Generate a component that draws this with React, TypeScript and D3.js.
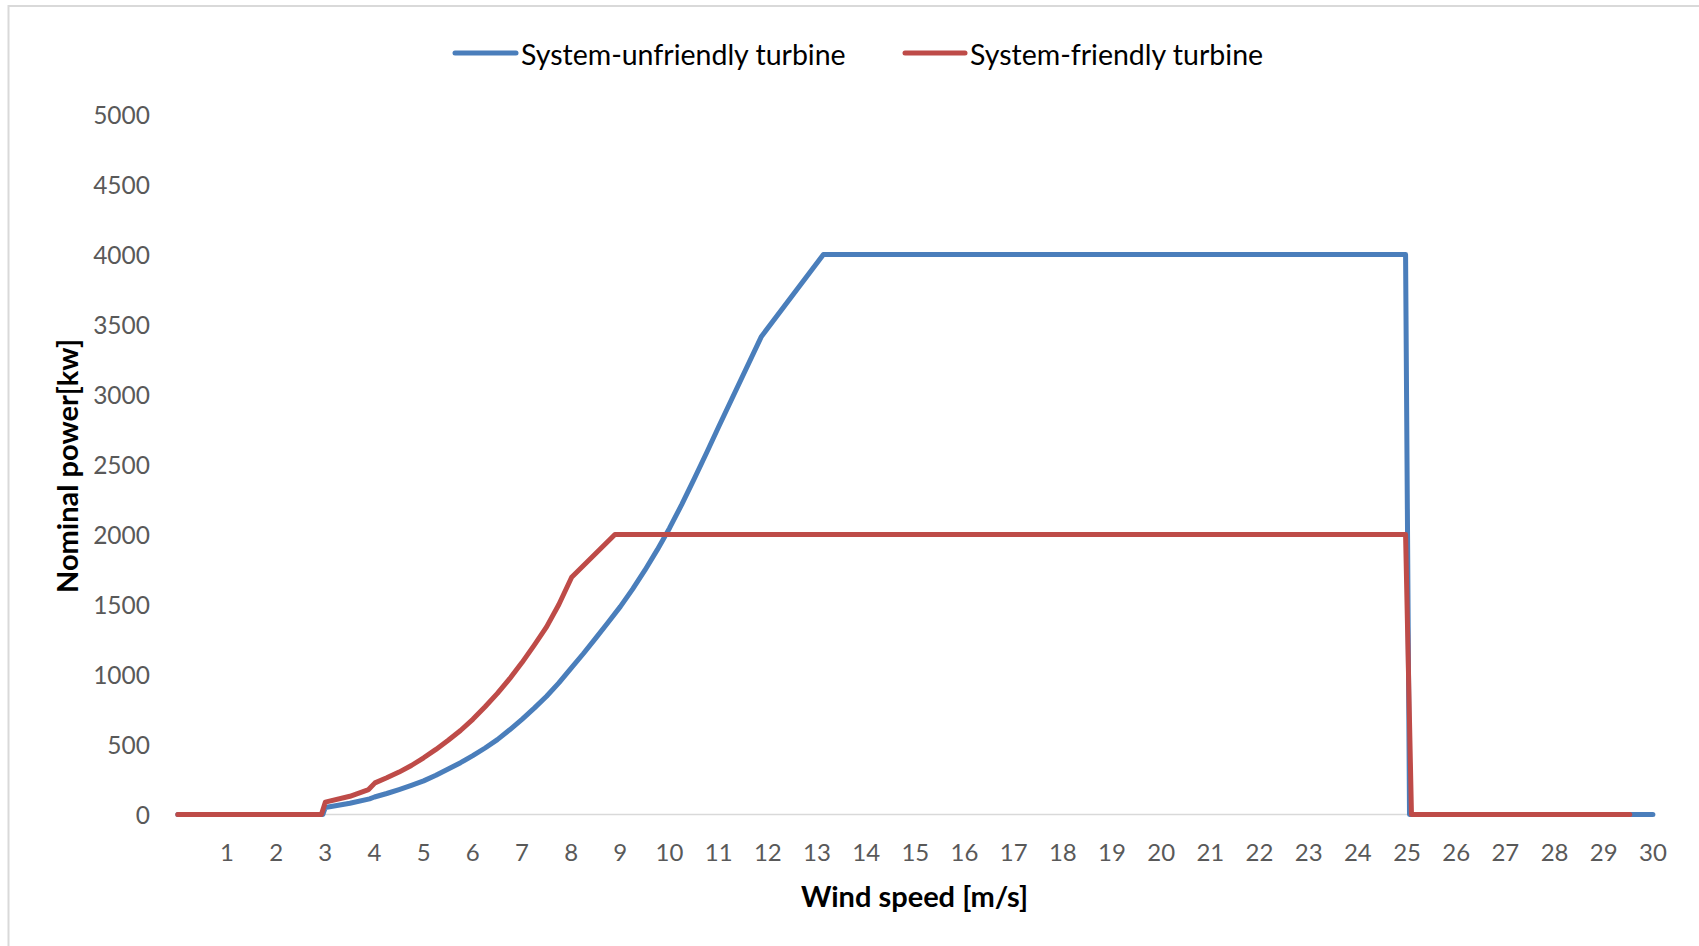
import React from "react";
import * as d3 from "d3";

const yTicks = [0, 500, 1000, 1500, 2000, 2500, 3000, 3500, 4000, 4500, 5000];
const xTicks = [1, 2, 3, 4, 5, 6, 7, 8, 9, 10, 11, 12, 13, 14, 15, 16, 17, 18, 19, 20, 21, 22, 23, 24, 25, 26, 27, 28, 29, 30];

const unfriendlySpeed = [0, 2.95, 3.0, 3.5, 3.9, 4.0, 4.25, 4.5, 4.75, 5, 5.25, 5.5, 5.75, 6, 6.25, 6.5, 6.75, 7, 7.25, 7.5, 7.75, 8, 8.25, 8.5, 8.75, 9, 9.25, 9.5, 9.75, 10, 10.25, 10.5, 10.75, 11, 11.87, 13.13, 24.97, 25.05, 30];
const unfriendlyPower = [0, 0, 50, 80, 112, 125, 150, 178, 208, 240, 280, 325, 370, 420, 475, 535, 605, 680, 760, 845, 940, 1045, 1150, 1260, 1372, 1485, 1610, 1745, 1890, 2045, 2215, 2395, 2580, 2770, 3415, 4000, 4000, 0, 0];

const friendlySpeed = [0, 2.92, 3.0, 3.5, 3.88, 4.01, 4.25, 4.5, 4.75, 5, 5.25, 5.5, 5.75, 6, 6.25, 6.5, 6.75, 7, 7.25, 7.5, 7.75, 8.01, 8.89, 24.97, 25.09, 29.53];
const friendlyPower = [0, 0, 88, 130, 178, 226, 262, 303, 350, 405, 465, 530, 600, 680, 770, 865, 970, 1085, 1210, 1340, 1500, 1695, 2000, 2000, 0, 0];

const seriesNames = ["System-unfriendly turbine", "System-friendly turbine"];
const seriesColors = ["#4a7ebb", "#be4b48"];

const FONT = "Lato, 'Open Sans', sans-serif";

export default function App() {
  const x = d3.scaleLinear().domain([0, 30]).range([177.8, 1652.9]);
  const y = d3.scaleLinear().domain([0, 5000]).range([814.5, 114.5]);

  const line = d3
    .line<[number, number]>()
    .x((d) => x(d[0]))
    .y((d) => y(d[1]))
    .curve(d3.curveLinear);

  const blue: [number, number][] = unfriendlySpeed.map((s, i) => [s, unfriendlyPower[i]]);
  const red: [number, number][] = friendlySpeed.map((s, i) => [s, friendlyPower[i]]);

  return (
    <svg
      width={1699}
      height={946}
      style={{ position: "absolute", left: 0, top: 0, background: "#fff" }}
      fontFamily={FONT}
    >
      <rect x={0} y={0} width={1699} height={946} fill="#ffffff" />
      <rect x={8.5} y={6} width={1700} height={960} fill="none" stroke="#d9d9d9" strokeWidth={2} />

      {/* legend */}
      <g>
        <line x1={455} x2={516} y1={53} y2={53} stroke={seriesColors[0]} strokeWidth={5} strokeLinecap="round" />
        <text x={521} y={54} dominantBaseline="central" fontSize={28.5} fill="#000">
          {seriesNames[0]}
        </text>
        <line x1={905} x2={965} y1={53} y2={53} stroke={seriesColors[1]} strokeWidth={5} strokeLinecap="round" />
        <text x={970} y={54} dominantBaseline="central" fontSize={28.5} fill="#000">
          {seriesNames[1]}
        </text>
      </g>

      {/* y tick labels */}
      {yTicks.map((t) => (
        <text key={"y" + t} x={150} y={y(t)} textAnchor="end" dominantBaseline="central" fontSize={24.5} fill="#595959">
          {t}
        </text>
      ))}

      {/* baseline */}
      <line x1={x(0)} x2={x(30)} y1={y(0)} y2={y(0)} stroke="#d9d9d9" strokeWidth={1.5} />

      {/* x tick labels */}
      {xTicks.map((t) => (
        <text key={"x" + t} x={x(t)} y={851} textAnchor="middle" dominantBaseline="central" fontSize={24} fill="#595959">
          {t}
        </text>
      ))}

      {/* axis titles */}
      <text
        x={0}
        y={0}
        transform={`translate(66,466) rotate(-90)`}
        textAnchor="middle"
        dominantBaseline="central"
        fontSize={29}
        fontWeight="bold"
        fill="#000"
      >
        Nominal power[kw]
      </text>
      <text x={914.5} y={895} textAnchor="middle" dominantBaseline="central" fontSize={29} fontWeight="bold" fill="#000">
        Wind speed [m/s]
      </text>

      {/* series */}
      <path d={line(blue) || ""} fill="none" stroke={seriesColors[0]} strokeWidth={5} strokeLinejoin="round" strokeLinecap="round" />
      <path d={line(red) || ""} fill="none" stroke={seriesColors[1]} strokeWidth={5} strokeLinejoin="round" strokeLinecap="round" />
    </svg>
  );
}
